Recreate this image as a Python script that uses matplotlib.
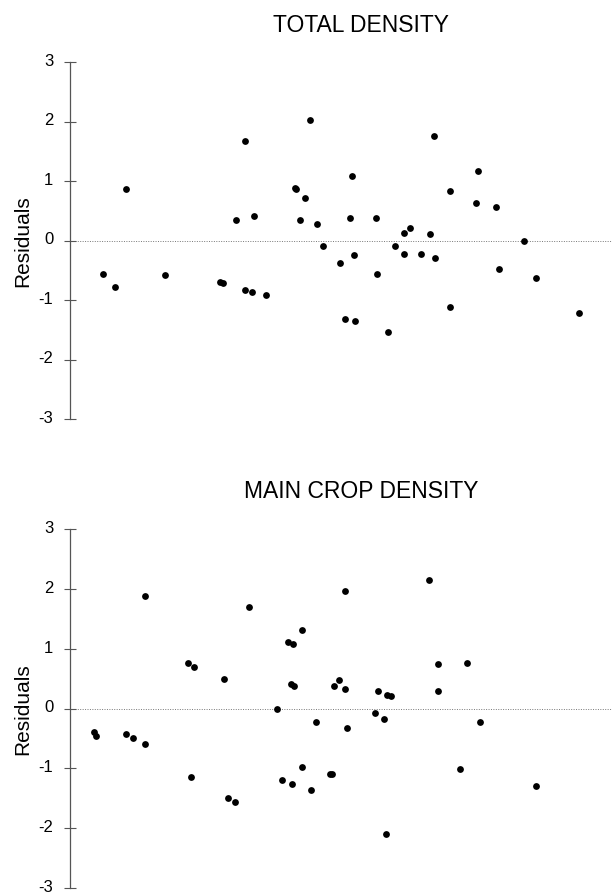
import matplotlib
matplotlib.use("Agg")
import matplotlib.pyplot as plt
from matplotlib.transforms import ScaledTranslation

plt.rcParams['font.family'] = ['Liberation Sans', 'DejaVu Sans']

# horizontal position of each plot (no x axis shown), residual values
total_x = [262, 292, 320, 420, 560, 567, 601, 625, 625, 643, 648, 679, 751, 755,
           765, 776, 789, 807, 822, 866, 880, 893, 898, 902, 905, 957, 962, 990,
           1006, 1029, 1030, 1045, 1074, 1095, 1107, 1108, 1147, 1148, 1214, 1219,
           1265, 1273, 1335, 1367, 1477]
total_res = [-0.57, -0.78, 0.87, -0.58, -0.69, -0.72, 0.34, 1.68, -0.83, -0.86,
             0.41, -0.92, 0.88, 0.86, 0.35, 0.71, 2.02, 0.27, -0.09, -0.38, -1.32,
             0.37, 1.09, -0.24, -1.36, 0.37, -0.56, -1.53, -0.10, 0.12, -0.23, 0.21,
             -0.23, 0.11, 1.76, -0.30, -1.11, 0.83, 0.63, 1.16, 0.56, -0.48, -0.01,
             -0.63, -1.22]

main_x = [236, 243, 320, 338, 367, 367, 477, 493, 487, 571, 582, 600, 636, 707,
          719, 736, 747, 742, 750, 746, 771, 772, 795, 806, 842, 849, 853, 867,
          883, 883, 888, 959, 966, 982, 987, 991, 1001, 1098, 1120, 1122, 1177,
          1196, 1228, 1373]
main_res = [-0.40, -0.46, -0.42, -0.50, 1.88, -0.60, 0.76, 0.70, -1.14, 0.50,
            -1.49, -1.56, 1.69, -0.01, -1.20, 1.11, 1.07, 0.41, 0.37, -1.26, 1.31,
            -0.98, -1.37, -0.23, -1.10, -1.10, 0.37, 0.48, 1.96, 0.32, -0.32, -0.08,
            0.29, -0.18, -2.10, 0.23, 0.21, 2.15, 0.75, 0.29, -1.01, 0.76, -0.22,
            -1.29]

yticks = [-3, -2, -1, 0, 1, 2, 3]

fig = plt.figure(figsize=(6.12, 8.95), dpi=100)


def draw_panel(rect, x, y, xlim, title, title_y):
    ax = fig.add_axes(rect)
    ax.axhline(0, color='#777777', ls=(0, (1, 1.5)), lw=0.7, zorder=1)
    ax.scatter(x, y, s=24, color='black', zorder=3, linewidths=0)
    ax.set_xlim(*xlim)
    ax.set_ylim(-3, 3)
    ax.set_yticks(yticks)
    ax.set_yticklabels([str(t) for t in yticks], fontsize=12)
    ax.set_xticks([])
    for side in ['top', 'right', 'bottom']:
        ax.spines[side].set_visible(False)
    ax.spines['left'].set_color('#555555')
    ax.spines['left'].set_linewidth(0.9)
    ax.tick_params(axis='y', direction='inout', length=9, width=0.8,
                   color='#555555', pad=7.5)
    # digits sit a little above their ticks in the original
    shift = ScaledTranslation(0, 2.2 / 72, fig.dpi_scale_trans)
    for lbl in ax.get_yticklabels():
        lbl.set_transform(lbl.get_transform() + shift)
    ax.set_ylabel('Residuals', fontsize=15, ha='center', va='center')
    ax.yaxis.set_label_coords(-0.088, 0.5)
    fig.text(361 / 612, title_y, title, fontsize=16.5, ha='center', va='center')
    return ax


draw_panel([70 / 612, 1 - 420 / 895, 542 / 612, 357 / 895],
           total_x, total_res, (178, 1560), 'TOTAL DENSITY', 1 - 25 / 895)
draw_panel([70 / 612, 1 - 889 / 895, 542 / 612, 359 / 895],
           main_x, main_res, (175, 1568), 'MAIN CROP DENSITY', 1 - 492 / 895)

fig.savefig('out.png', dpi=100)
